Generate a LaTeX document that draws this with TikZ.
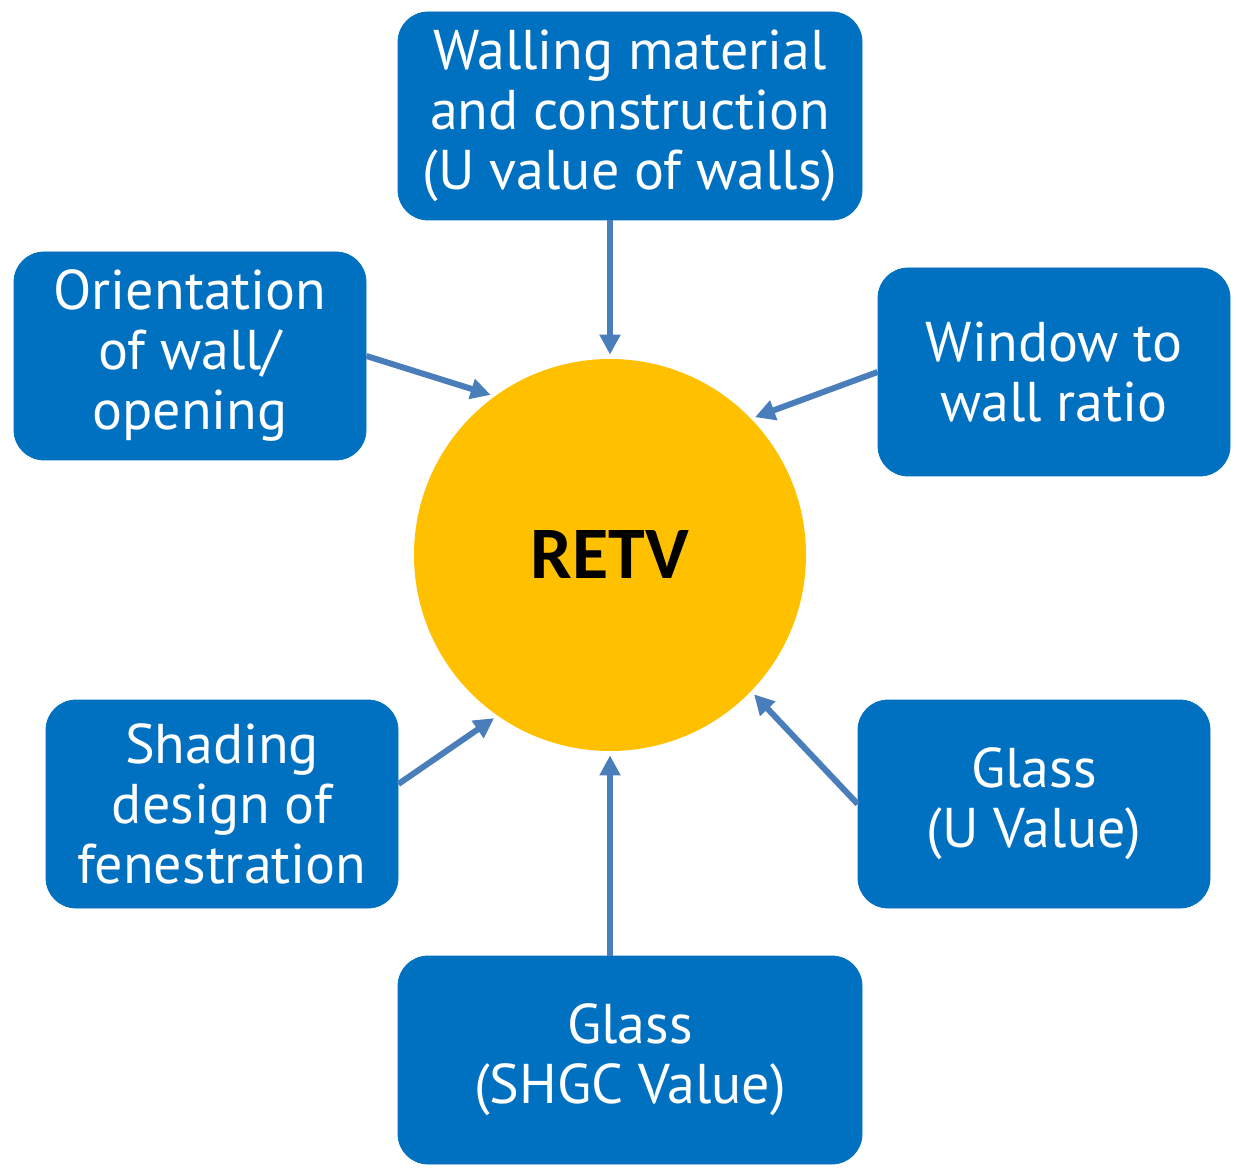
\documentclass[tikz,border=0pt]{standalone}
\usepackage{fontspec}
\setmainfont{PT Sans}
\newfontfamily\retvfont{Carlito}
\usetikzlibrary{arrows.meta}

\definecolor{boxblue}{HTML}{0070C0}
\definecolor{retvgold}{HTML}{FFC000}
\definecolor{arrowblue}{HTML}{4A7EBB}

\tikzset{
  factor/.style={draw=boxblue, fill=boxblue, text=white, rounded corners=15pt,
    minimum width=176pt, minimum height=104pt, align=center,
    font=\fontsize{28}{30}\selectfont, inner sep=0pt},
  widefactor/.style={factor, minimum width=232pt},
  feeds/.style={draw=arrowblue, line width=3pt,
    -{Triangle[length=10pt,width=10pt]}, shorten >=2pt}
}

\begin{document}
\begin{tikzpicture}[x=0.5pt,y=-0.5pt]
  \useasboundingbox (0,0) rectangle (1236,1170);

  \node[circle, fill=retvgold, minimum size=196pt, inner sep=0pt,
    font=\retvfont\bfseries\fontsize{37}{40}\selectfont] (retv) at (610,555) {RETV};

  \node[widefactor] (walls) at (630,116) {Walling material\\and construction\\(U value of walls)};
  \node[factor] (orient) at (190,356) {Orientation\\of wall/\\opening};
  \node[factor] (wwr) at (1054,372) {Window to\\wall ratio};
  \node[factor] (shading) at (222,804) {Shading\\design of\\fenestration};
  \node[factor] (glassu) at (1034,804) {Glass\\(U Value)};
  \node[widefactor] (shgc) at (630,1060) {Glass\\(SHGC Value)};

  \draw[feeds] (retv.north |- walls.south) -- (retv.north);
  \draw[feeds] (orient.east) -- (retv.126);
  \draw[feeds] (wwr.west) -- (retv.44);
  \draw[feeds] ([yshift=10pt]shading.east) -- (retv.235);
  \draw[feeds] (glassu.west) -- (retv.316);
  \draw[feeds] (retv.south |- shgc.north) -- (retv.south);
\end{tikzpicture}
\end{document}
